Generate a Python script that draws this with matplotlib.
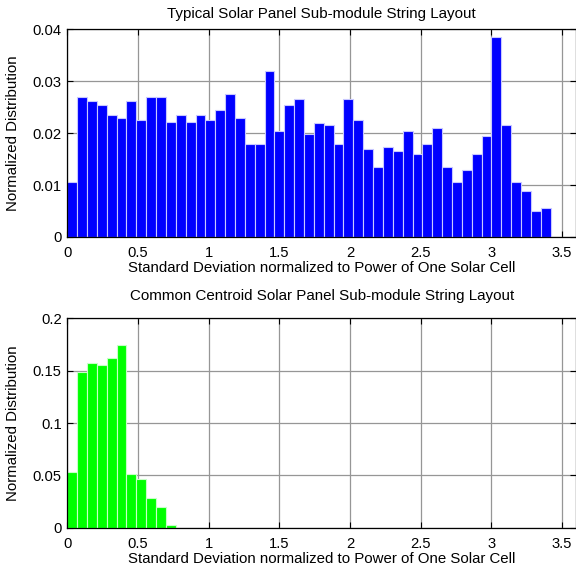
import numpy as np
import matplotlib
matplotlib.use("Agg")
import matplotlib.pyplot as plt

plt.rcParams['font.family'] = ['Liberation Sans', 'DejaVu Sans']
plt.rcParams['font.size'] = 10

# histogram bin width (same bins in both panels)
bin_width = 0.0698

# typical layout: normalized distribution per bin
typical_vals = [0.0105, 0.0270, 0.0262, 0.0255, 0.0234, 0.0230, 0.0262, 0.0225,
                0.0270, 0.0270, 0.0221, 0.0234, 0.0221, 0.0234, 0.0225, 0.0245,
                0.0275, 0.0229, 0.0179, 0.0179, 0.0320, 0.0205, 0.0255, 0.0265,
                0.0199, 0.0220, 0.0215, 0.0179, 0.0265, 0.0225, 0.0170, 0.0134,
                0.0174, 0.0165, 0.0205, 0.0159, 0.0179, 0.0209, 0.0134, 0.0105,
                0.0129, 0.0159, 0.0195, 0.0386, 0.0215, 0.0105, 0.0089, 0.0050,
                0.0055]

# common centroid layout
centroid_vals = [0.0535, 0.149, 0.157, 0.1554, 0.1624, 0.1748, 0.0516, 0.0468,
                 0.0287, 0.0197, 0.0029]

top_title = "Typical Solar Panel Sub-module String Layout"
bottom_title = "Common Centroid Solar Panel Sub-module String Layout"
xlab = "Standard Deviation normalized to Power of One Solar Cell"
ylab = "Normalized Distribution"

fig = plt.figure(figsize=(5.76, 5.72), dpi=100)
ax1 = fig.add_axes([0.1168, 0.5857, 0.8832, 0.3631])
ax2 = fig.add_axes([0.1168, 0.0774, 0.8832, 0.3661])


def draw(ax, vals, color, edge, ymax, yticks, ytl, title, tpad):
    centers = bin_width * (np.arange(len(vals)) + 0.5)
    ax.bar(centers, vals, width=bin_width, color=color, edgecolor=edge,
           linewidth=0.8, zorder=2)
    ax.set_xlim(0, 3.6)
    ax.set_ylim(0, ymax)
    ax.set_xticks([0, 0.5, 1, 1.5, 2, 2.5, 3, 3.5])
    ax.set_xticklabels(['0', '0.5', '1', '1.5', '2', '2.5', '3', '3.5'])
    ax.set_yticks(yticks)
    ax.set_yticklabels(ytl)
    ax.grid(True, color='#969696', linewidth=0.9, zorder=0)
    ax.set_axisbelow(True)
    ax.tick_params(direction='in', top=True, right=True, length=4, width=0.8,
                   labelsize=10.6)
    ax.tick_params(axis='x', pad=6.5)
    ax.tick_params(axis='y', pad=4)
    for s in ax.spines.values():
        s.set_linewidth(0.9)
    ax.set_title(title, fontsize=10.9, pad=tpad)
    ax.set_xlabel(xlab, fontsize=10.8, labelpad=1)
    ax.set_ylabel(ylab, fontsize=10.8, labelpad=9)


draw(ax1, typical_vals, '#0000ff', '#c8c8ff', 0.04,
     [0, 0.01, 0.02, 0.03, 0.04], ['0', '0.01', '0.02', '0.03', '0.04'],
     top_title, 8)
draw(ax2, centroid_vals, '#00ff00', '#c8ffc8', 0.2,
     [0, 0.05, 0.1, 0.15, 0.2], ['0', '0.05', '0.1', '0.15', '0.2'],
     bottom_title, 13)

fig.savefig("out.png", dpi=100)
